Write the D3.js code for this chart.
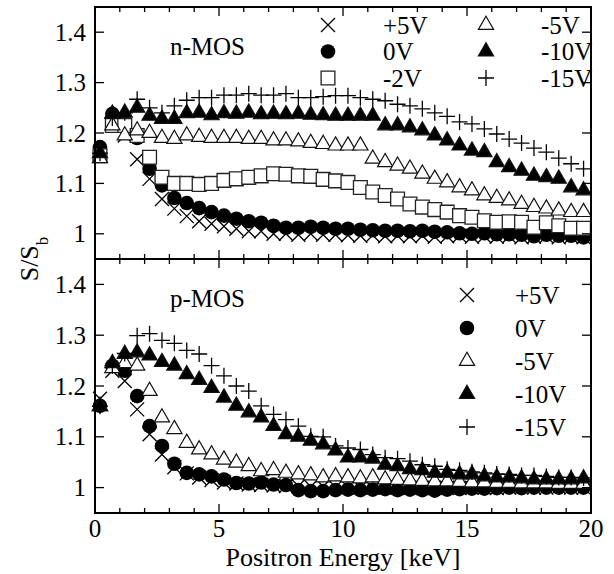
<!DOCTYPE html>
<html lang="en">
<head>
  <meta charset="utf-8">
  <title>S/Sb vs positron energy</title>
  <script src="https://d3js.org/d3.v7.min.js"></script>
  <style>
    body { margin: 0; background: white; }
    svg text { font-family: "Liberation Serif", "DejaVu Serif", "Noto Serif", serif; fill: black; }
    .tick-label { font-size: 25px; }
    .legend-label { font-size: 25px; }
    .panel-label { font-size: 25px; }
    .axis-title { font-size: 26px; }
  </style>
</head>
<body>
  <div id="chart"></div>
  <script>
    var w = 614;
    var h = 574;

    // positron energy (keV) of each measured point
    var energy = [0.2, 0.7, 1.2, 1.7, 2.2, 2.7, 3.2, 3.7, 4.2, 4.7,
                  5.2, 5.7, 6.2, 6.7, 7.2, 7.7, 8.2, 8.7, 9.2, 9.7,
                  10.2, 10.7, 11.2, 11.7, 12.2, 12.7, 13.2, 13.7, 14.2, 14.7,
                  15.2, 15.7, 16.2, 16.7, 17.2, 17.7, 18.2, 18.7, 19.2, 19.7];

    var xTicks = [0, 5, 10, 15, 20];
    var yTicks = [1, 1.1, 1.2, 1.3, 1.4];
    var yTickLabels = ['1', '1.1', '1.2', '1.3', '1.4'];

    // n-MOS
    var nP5 = [1.16, 1.22, 1.195, 1.148, 1.109, 1.069, 1.05, 1.035, 1.025, 1.02,
               1.015, 1.01, 1.005, 1.005, 1.0, 1.0, 0.998, 1.0, 0.998, 0.998,
               0.997, 0.996, 0.997, 0.995, 0.996, 0.995, 0.996, 0.994, 0.995, 0.996,
               0.994, 0.995, 0.994, 0.995, 0.993, 0.994, 0.995, 0.993, 0.994, 0.993];
    var n0 = [1.172, 1.238, 1.22, 1.19, 1.129, 1.096, 1.071, 1.061, 1.051, 1.043,
              1.036, 1.03, 1.025, 1.022, 1.016, 1.012, 1.012, 1.014, 1.012, 1.01,
              1.01, 1.008, 1.007, 1.006, 1.006, 1.005, 1.006, 1.004, 1.003, 1.001,
              1.0, 1.001, 0.999, 0.999, 0.998, 0.995, 0.998, 0.996, 0.996, 0.993];
    var nM2 = [1.155, 1.215, 1.215, 1.195, 1.152, 1.112, 1.1, 1.1, 1.098, 1.1,
               1.106, 1.109, 1.112, 1.115, 1.119, 1.118, 1.115, 1.114, 1.108, 1.105,
               1.102, 1.092, 1.083, 1.076, 1.069, 1.059, 1.053, 1.048, 1.043, 1.036,
               1.033, 1.026, 1.023, 1.024, 1.023, 1.013, 1.022, 1.016, 1.011, 1.011];
    var nM5 = [1.15, 1.215, 1.195, 1.205, 1.2, 1.19, 1.188, 1.195, 1.192, 1.19,
               1.19, 1.19, 1.188, 1.188, 1.185, 1.185, 1.183, 1.18, 1.178, 1.175,
               1.175, 1.175, 1.149, 1.142, 1.135, 1.129, 1.119, 1.109, 1.102, 1.092,
               1.086, 1.076, 1.071, 1.066, 1.059, 1.053, 1.05, 1.046, 1.043, 1.043];
    var nM10 = [1.16, 1.238, 1.24, 1.25, 1.234, 1.228, 1.228, 1.239, 1.24, 1.235,
                1.239, 1.238, 1.24, 1.237, 1.238, 1.237, 1.238, 1.236, 1.235, 1.234,
                1.234, 1.234, 1.234, 1.215, 1.215, 1.211, 1.205, 1.195, 1.185, 1.175,
                1.165, 1.162, 1.142, 1.132, 1.125, 1.115, 1.112, 1.109, 1.092, 1.086];
    var nM15 = [1.16, 1.23, 1.24, 1.267, 1.25, 1.24, 1.254, 1.265, 1.27, 1.27,
                1.275, 1.275, 1.278, 1.275, 1.275, 1.278, 1.27, 1.27, 1.272, 1.274,
                1.274, 1.27, 1.267, 1.264, 1.257, 1.254, 1.248, 1.24, 1.233, 1.222,
                1.218, 1.208, 1.198, 1.188, 1.18, 1.17, 1.162, 1.15, 1.139, 1.129];

    // p-MOS
    var pP5 = [1.175, 1.23, 1.21, 1.154, 1.105, 1.065, 1.04, 1.028, 1.02, 1.015,
               1.01, 1.008, 1.006, 1.005, 1.004, 1.003, 1.003, 1.002, 1.002, 1.001,
               1.001, 1.0, 1.0, 1.0, 1.0, 0.999, 1.0, 0.999, 1.0, 0.999,
               1.0, 1.0, 0.999, 1.0, 1.001, 1.0, 1.0, 1.001, 1.0, 1.0];
    var p0 = [1.161, 1.24, 1.23, 1.18, 1.121, 1.082, 1.047, 1.029, 1.026, 1.022,
              1.016, 1.009, 1.008, 1.01, 1.006, 1.005, 0.995, 0.993, 0.993, 0.995,
              0.996, 0.995, 0.996, 0.997, 0.995, 0.996, 0.995, 0.994, 0.996, 0.997,
              0.998, 0.998, 0.999, 1.0, 0.999, 1.0, 1.0, 1.0, 1.0, 1.0];
    var pM5 = [1.16, 1.235, 1.245, 1.24, 1.19, 1.138, 1.115, 1.088, 1.075, 1.065,
               1.055, 1.049, 1.042, 1.032, 1.034, 1.029, 1.026, 1.024, 1.02, 1.022,
               1.02, 1.018, 1.02, 1.016, 1.015, 1.014, 1.013, 1.012, 1.012, 1.011,
               1.01, 1.01, 1.009, 1.009, 1.008, 1.008, 1.008, 1.007, 1.007, 1.007];
    var pM10 = [1.16, 1.245, 1.263, 1.266, 1.26, 1.247, 1.24, 1.223, 1.212, 1.196,
                1.177, 1.161, 1.148, 1.138, 1.121, 1.105, 1.1, 1.092, 1.085, 1.073,
                1.059, 1.059, 1.057, 1.045, 1.042, 1.036, 1.034, 1.029, 1.029, 1.026,
                1.026, 1.022, 1.02, 1.02, 1.018, 1.016, 1.016, 1.016, 1.016, 1.018];
    var pM15 = [1.16, 1.24, 1.264, 1.299, 1.303, 1.29, 1.284, 1.27, 1.263, 1.24,
                1.22, 1.2, 1.19, 1.161, 1.144, 1.134, 1.121, 1.101, 1.1, 1.082,
                1.078, 1.075, 1.065, 1.059, 1.057, 1.052, 1.045, 1.042, 1.036, 1.034,
                1.031, 1.029, 1.027, 1.026, 1.024, 1.024, 1.022, 1.02, 1.02, 1.019];

    var nSeries = [
      {name: '+5V', mark: 'times', values: nP5},
      {name: '0V', mark: 'circle', values: n0},
      {name: '-2V', mark: 'square', values: nM2},
      {name: '-5V', mark: 'triOpen', values: nM5},
      {name: '-10V', mark: 'triFilled', values: nM10},
      {name: '-15V', mark: 'plus', values: nM15}
    ];
    var pSeries = [
      {name: '+5V', mark: 'times', values: pP5},
      {name: '0V', mark: 'circle', values: p0},
      {name: '-5V', mark: 'triOpen', values: pM5},
      {name: '-10V', mark: 'triFilled', values: pM10},
      {name: '-15V', mark: 'plus', values: pM15}
    ];

    var left = 95, right = 591;
    var x = d3.scaleLinear().domain([0, 20]).range([left, right]);

    var panels = [
      {label: 'n-MOS', series: nSeries, top: 7, bottom: 259},
      {label: 'p-MOS', series: pSeries, top: 259, bottom: 513}
    ];

    var svg = d3.select('#chart').append('svg')
      .attr('width', w)
      .attr('height', h);

    // draw one marker of the given kind into g, centred at 0,0
    function drawMark(g, kind) {
      if (kind === 'circle') {
        g.append('circle').attr('r', 7.3).attr('fill', 'black');
      } else if (kind === 'square') {
        g.append('path')
          .attr('d', d3.symbol().type(d3.symbolSquare).size(190)())
          .attr('fill', 'white').attr('stroke', '#222').attr('stroke-width', 1.3);
      } else if (kind === 'triOpen' || kind === 'triFilled') {
        g.append('path')
          .attr('d', d3.symbol().type(d3.symbolTriangle).size(100)())
          .attr('fill', kind === 'triFilled' ? 'black' : 'white')
          .attr('stroke', '#111').attr('stroke-width', 1.2);
      } else if (kind === 'times') {
        var s = 7;
        g.append('path')
          .attr('d', 'M' + (-s) + ',' + (-s) + 'L' + s + ',' + s + 'M' + (-s) + ',' + s + 'L' + s + ',' + (-s))
          .attr('stroke', 'black').attr('stroke-width', 1.3).attr('fill', 'none');
      } else if (kind === 'plus') {
        var p = 8;
        g.append('path')
          .attr('d', 'M' + (-p) + ',0L' + p + ',0M0,' + (-p) + 'L0,' + p)
          .attr('stroke', 'black').attr('stroke-width', 1.3).attr('fill', 'none');
      }
    }

    panels.forEach(function(panel) {
      var y = d3.scaleLinear().domain([0.95, 1.45]).range([panel.bottom, panel.top]);
      var g = svg.append('g');

      panel.series.forEach(function(s) {
        g.selectAll('g.pt-' + s.mark)
          .data(s.values)
          .enter().append('g')
          .attr('transform', function(d, i) {
            return 'translate(' + x(energy[i]) + ',' + y(d) + ')';
          })
          .each(function() { drawMark(d3.select(this), s.mark); });
      });

      // x ticks, inward on top and bottom
      d3.range(0, 21, 1).forEach(function(v) {
        var len = (v % 5 === 0) ? 9 : 5;
        g.append('line').attr('x1', x(v)).attr('x2', x(v))
          .attr('y1', panel.bottom).attr('y2', panel.bottom - len)
          .attr('stroke', 'black').attr('stroke-width', 1.3);
        g.append('line').attr('x1', x(v)).attr('x2', x(v))
          .attr('y1', panel.top).attr('y2', panel.top + len)
          .attr('stroke', 'black').attr('stroke-width', 1.3);
      });

      // y ticks and labels
      yTicks.forEach(function(v, i) {
        g.append('line').attr('x1', left).attr('x2', left + 9)
          .attr('y1', y(v)).attr('y2', y(v))
          .attr('stroke', 'black').attr('stroke-width', 1.3);
        g.append('line').attr('x1', right).attr('x2', right - 9)
          .attr('y1', y(v)).attr('y2', y(v))
          .attr('stroke', 'black').attr('stroke-width', 1.3);
        g.append('text').attr('class', 'tick-label')
          .attr('x', left - 9).attr('y', y(v))
          .attr('dy', '0.34em')
          .attr('text-anchor', 'end')
          .text(yTickLabels[i]);
      });

      g.append('text').attr('class', 'panel-label')
        .attr('x', 170).attr('y', panel.top + 48)
        .text(panel.label);

      g.append('rect')
        .attr('x', left).attr('y', panel.top)
        .attr('width', right - left).attr('height', panel.bottom - panel.top)
        .attr('fill', 'none').attr('stroke', 'black').attr('stroke-width', 2);
    });

    // legends
    var legN = svg.append('g');
    nSeries.forEach(function(s, i) {
      var col = Math.floor(i / 3), row = i % 3;
      var lx = col === 0 ? 328 : 486;
      var ly = 25 + row * 26.5;
      drawMark(legN.append('g').attr('transform', 'translate(' + lx + ',' + ly + ')'), s.mark);
      legN.append('text').attr('class', 'legend-label')
        .attr('x', lx + 55).attr('y', ly).attr('dy', '0.34em')
        .text(s.name);
    });

    var legP = svg.append('g');
    pSeries.forEach(function(s, i) {
      var lx = 467, ly = 295 + i * 33;
      drawMark(legP.append('g').attr('transform', 'translate(' + lx + ',' + ly + ')'), s.mark);
      legP.append('text').attr('class', 'legend-label')
        .attr('x', lx + 48).attr('y', ly).attr('dy', '0.34em')
        .text(s.name);
    });

    // x tick labels and titles
    svg.selectAll('text.xlab')
      .data(xTicks)
      .enter().append('text')
      .attr('class', 'tick-label xlab')
      .attr('x', function(d) { return x(d); })
      .attr('y', 537)
      .attr('text-anchor', 'middle')
      .text(function(d) { return d; });

    svg.append('text').attr('class', 'axis-title')
      .attr('x', (left + right) / 2).attr('y', 566)
      .attr('text-anchor', 'middle')
      .text('Positron Energy [keV]');

    var yt = svg.append('text').attr('class', 'axis-title')
      .attr('transform', 'translate(38,259) rotate(-90)')
      .attr('text-anchor', 'middle');
    yt.append('tspan').text('S/S');
    yt.append('tspan').attr('baseline-shift', 'sub').attr('font-size', '17px').text('b');
  </script>
</body>
</html>
